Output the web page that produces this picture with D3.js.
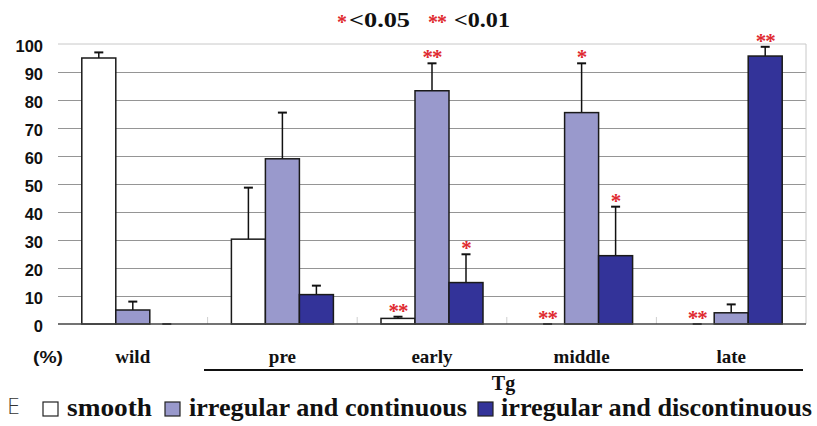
<!DOCTYPE html>
<html><head><meta charset="utf-8">
<script src="https://cdn.jsdelivr.net/npm/d3@7"></script>
<style>html,body{margin:0;padding:0;background:#fff}svg{display:block}</style>
</head><body>
<script>
const groups = ["wild", "pre", "early", "middle", "late"];
const series = ["smooth", "irregular and continuous", "irregular and discontinuous"];
const smoothVals = [95, 30.3, 2, 0, 0];
const smoothErr = [2, 18.4, 0.6, 0, 0];
const irregularVals = [5, 59, 83.3, 75.5, 4];
const irregularErr = [3, 16.5, 9.8, 17.6, 3];
const discontVals = [0, 10.5, 14.8, 24.4, 95.7];
const discontErr = [0, 3.2, 10.1, 17.5, 3.3];
const smoothStars = ["", "", "**", "**", "**"];
const irregularStars = ["", "", "**", "*", ""];
const discontStars = ["", "", "*", "*", "**"];
const yTicks = [0, 10, 20, 30, 40, 50, 60, 70, 80, 90, 100];
const colors = ["#ffffff", "#9999cc", "#333399"];

const W = 817, H = 426;
const svg = d3.select("body").append("svg").attr("width", W).attr("height", H);
const L = 58, R = 806, T = 44, B = 324;

const y = d3.scaleLinear().domain([0, 100]).range([B, T]);
const x0 = d3.scaleBand().domain(groups).range([L, R]);
const bw = 34;
const gw = x0.bandwidth();
const x1 = d3.scaleBand().domain(series).range([(gw - 3 * bw) / 2, (gw + 3 * bw) / 2]);

// gridlines
const grid = svg.append("g").attr("transform", `translate(${L},0)`)
  .call(d3.axisLeft(y).tickValues(yTicks.filter(v => v > 0 && v < 100)).tickSize(-(R - L)).tickFormat(""));
grid.select(".domain").remove();
grid.selectAll("line").attr("stroke", "#959595").attr("stroke-width", 1);
svg.append("line").attr("x1", L).attr("x2", R).attr("y1", y(100)).attr("y2", y(100)).attr("stroke", "#c8c8c8");
svg.append("line").attr("x1", R).attr("x2", R).attr("y1", y(100)).attr("y2", y(0)).attr("stroke", "#c8c8c8");

// tick labels
const yAx = svg.append("g").attr("transform", `translate(${L - 15},0)`)
  .call(d3.axisLeft(y).tickValues(yTicks).tickSize(0));
yAx.select(".domain").remove();
yAx.selectAll("text").attr("font-family", "Liberation Sans, Arial, sans-serif")
  .attr("font-weight", "bold").attr("font-size", 16.5).attr("fill", "#111").attr("dy", "0.45em").attr("x", 0);

// group separator ticks
svg.append("g").selectAll("line").data(groups.slice(1)).join("line")
  .attr("x1", d => x0(d)).attr("x2", d => x0(d)).attr("y1", B - 7).attr("y2", B)
  .attr("stroke", "#cfcfcf");

const data = groups.map((g, i) => ({
  g,
  items: [
    {s: series[0], v: smoothVals[i], e: smoothErr[i], st: smoothStars[i], c: colors[0]},
    {s: series[1], v: irregularVals[i], e: irregularErr[i], st: irregularStars[i], c: colors[1]},
    {s: series[2], v: discontVals[i], e: discontErr[i], st: discontStars[i], c: colors[2]}
  ]
}));

const gg = svg.append("g").selectAll("g").data(data).join("g")
  .attr("transform", d => `translate(${x0(d.g)},0)`);

// error bars (upper only)
const eb = gg.selectAll("g.err").data(d => d.items).join("g").attr("class", "err");
eb.append("line")
  .attr("x1", d => x1(d.s) + bw / 2).attr("x2", d => x1(d.s) + bw / 2)
  .attr("y1", d => y(d.v)).attr("y2", d => y(d.v + d.e))
  .attr("stroke", "#111").attr("stroke-width", 1.5);
eb.append("line")
  .attr("x1", d => x1(d.s) + bw / 2 - 4.5).attr("x2", d => x1(d.s) + bw / 2 + 4.5)
  .attr("y1", d => y(d.v + d.e)).attr("y2", d => y(d.v + d.e))
  .attr("stroke", "#111").attr("stroke-width", 2);

// bars
gg.selectAll("rect").data(d => d.items.filter(it => it.v > 0)).join("rect")
  .attr("x", d => x1(d.s)).attr("width", bw)
  .attr("y", d => y(d.v)).attr("height", d => y(0) - y(d.v))
  .attr("fill", d => d.c).attr("stroke", "#1a1a1a").attr("stroke-width", 1.5);

// stars
gg.selectAll("text.star").data(d => d.items.filter(it => it.st)).join("text").attr("class", "star")
  .attr("x", d => x1(d.s) + bw / 2).attr("y", d => y(d.v + d.e) + 1)
  .attr("text-anchor", "middle").attr("font-family", "Liberation Serif, serif")
  .attr("font-weight", "bold").attr("font-size", 21).attr("fill", "#e02a30")
  .attr("letter-spacing", -1)
  .text(d => d.st);

// baseline
svg.append("line").attr("x1", L).attr("x2", R).attr("y1", y(0)).attr("y2", y(0))
  .attr("stroke", "#444").attr("stroke-width", 1.5);

// category labels
svg.append("g").selectAll("text").data(groups).join("text")
  .attr("x", d => x0(d) + gw / 2).attr("y", 363).attr("text-anchor", "middle")
  .attr("font-family", "Liberation Serif, serif").attr("font-weight", "bold").attr("font-size", 19)
  .attr("fill", "#111").text(d => d);
svg.append("text").attr("x", 33).attr("y", 363)
  .attr("font-family", "Liberation Sans, Arial, sans-serif").attr("font-weight", "bold").attr("font-size", 17)
  .attr("fill", "#111").attr("textLength", 30).attr("lengthAdjust", "spacingAndGlyphs").text("(%)");

// Tg underline
svg.append("line").attr("x1", 204).attr("x2", 803).attr("y1", 370).attr("y2", 370)
  .attr("stroke", "#111").attr("stroke-width", 2);
svg.append("text").attr("x", 503.5).attr("y", 390).attr("text-anchor", "middle")
  .attr("font-family", "Liberation Serif, serif").attr("font-weight", "bold").attr("font-size", 20)
  .attr("fill", "#111").text("Tg");

// top significance legend
const sig = svg.append("g").attr("font-family", "Liberation Serif, serif").attr("font-weight", "bold");
sig.append("text").attr("x", 337).attr("y", 29).attr("font-size", 20).attr("fill", "#e02a30").text("*");
sig.append("text").attr("x", 349).attr("y", 27).attr("font-size", 21).attr("fill", "#111")
  .attr("textLength", 61).attr("lengthAdjust", "spacingAndGlyphs").text("<0.05");
sig.append("text").attr("x", 428).attr("y", 29).attr("font-size", 20).attr("fill", "#e02a30").attr("letter-spacing", -1).text("**");
sig.append("text").attr("x", 454).attr("y", 27).attr("font-size", 21).attr("fill", "#111")
  .attr("textLength", 56).attr("lengthAdjust", "spacingAndGlyphs").text("<0.01");

// bottom legend
svg.append("text").attr("x", 7).attr("y", 414).attr("font-family", "DejaVu Sans, sans-serif")
  .attr("font-size", 21).attr("font-weight", 300).attr("fill", "#333").text("E");
const legX = [43, 165, 478];
const legTextX = [67, 189, 501];
const legTextW = [85, 278, 311];
const lg = svg.append("g").selectAll("g").data(series).join("g");
lg.append("rect").attr("x", (d, i) => legX[i]).attr("y", 402).attr("width", 15).attr("height", 14)
  .attr("fill", (d, i) => colors[i]).attr("stroke", "#222").attr("stroke-width", 1.2);
lg.append("text").attr("x", (d, i) => legTextX[i]).attr("y", 416)
  .attr("font-family", "Liberation Serif, serif").attr("font-weight", "bold").attr("font-size", 25)
  .attr("fill", "#111").attr("textLength", (d, i) => legTextW[i]).attr("lengthAdjust", "spacingAndGlyphs")
  .text(d => d);
</script>
</body></html>
